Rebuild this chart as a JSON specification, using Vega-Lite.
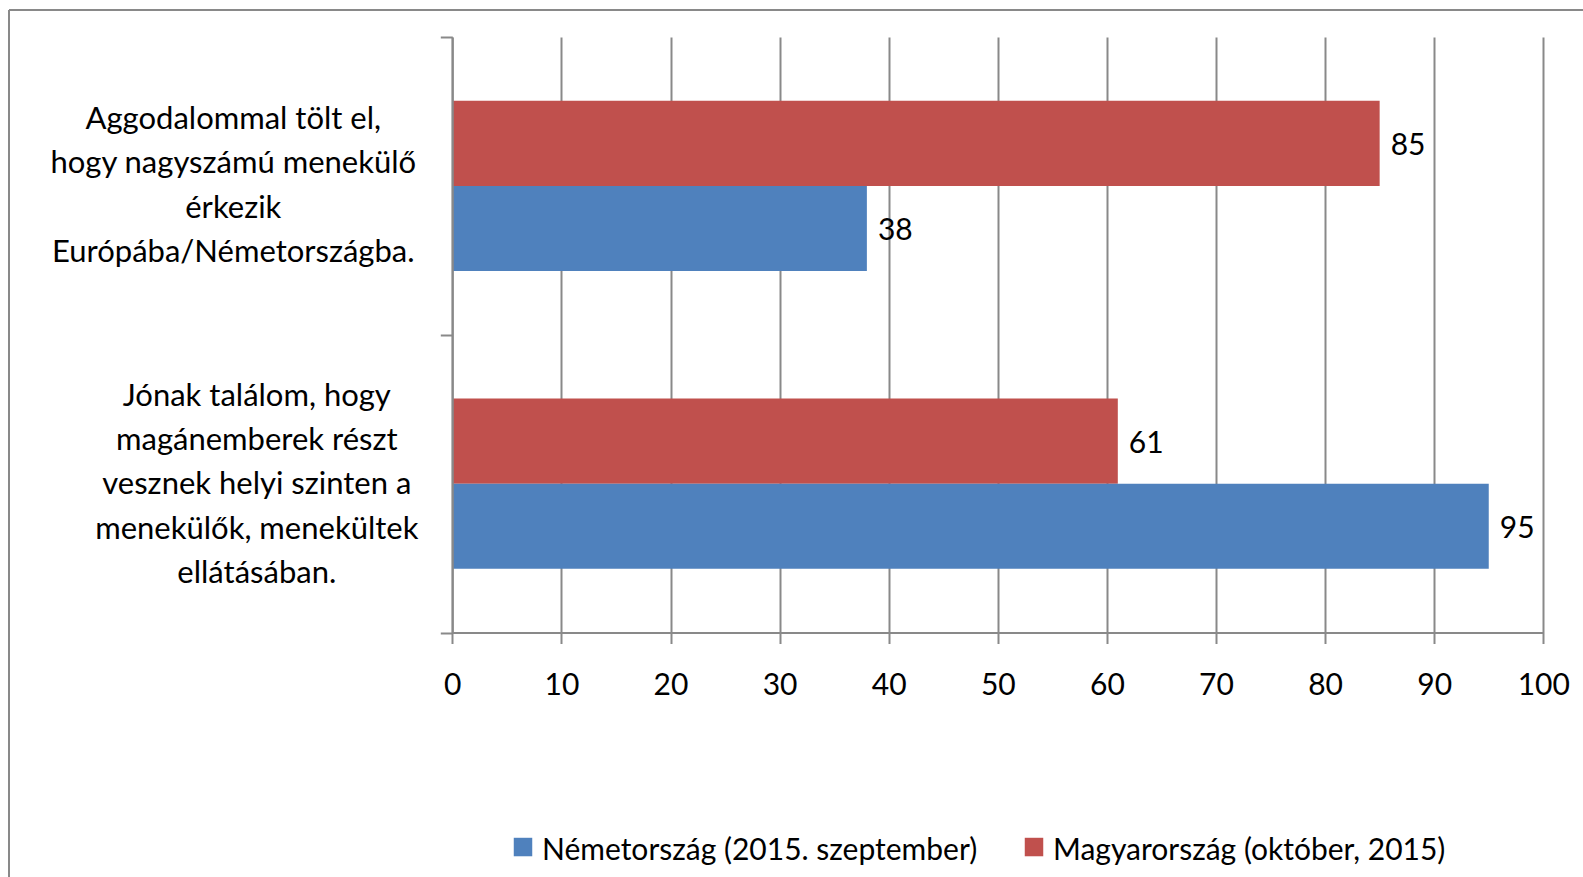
{
  "$schema": "https://vega.github.io/schema/vega-lite/v6.json",
  "width": 1574,
  "height": 867,
  "autosize": {"type": "none"},
  "padding": {"left": 9, "top": 10, "right": 0, "bottom": 0},
  "background": "#ffffff",
  "config": {
    "view": {"stroke": "#898989", "strokeWidth": 2, "strokeDash": [1574, 2441, 867, 0]},
    "font": "Lato"
  },
  "data": {
    "values": [
      {"question": "Aggodalommal tölt el,\nhogy nagyszámú menekülő\nérkezik\nEurópába/Németországba.", "country": "Magyarország (október, 2015)", "value": 85},
      {"question": "Aggodalommal tölt el,\nhogy nagyszámú menekülő\nérkezik\nEurópába/Németországba.", "country": "Németország (2015. szeptember)", "value": 38},
      {"question": "Jónak találom, hogy\nmagánemberek részt\nvesznek helyi szinten a\nmenekülők, menekültek\nellátásában.", "country": "Magyarország (október, 2015)", "value": 61},
      {"question": "Jónak találom, hogy\nmagánemberek részt\nvesznek helyi szinten a\nmenekülők, menekültek\nellátásában.", "country": "Németország (2015. szeptember)", "value": 95}
    ]
  },
  "encoding": {
    "y": {
      "field": "question",
      "type": "nominal",
      "sort": null,
      "scale": {"range": [27, 622.5], "paddingInner": 0, "paddingOuter": 0},
      "axis": {
        "title": null,
        "orient": "left",
        "offset": -443.3,
        "zindex": 1,
        "domainColor": "#898989",
        "domainWidth": 2,
        "tickColor": "#898989",
        "tickWidth": 2,
        "tickSize": 12,
        "tickBand": "extent",
        "labelFont": "Lato",
        "labelFontSize": 31,
        "labelColor": "#000000",
        "labelAlign": "center",
        "labelBaseline": "middle",
        "labelLineHeight": 44.4,
        "labelLimit": 0,
        "labelPadding": 195,
        "labelExpr": "split(datum.label + '', '\\n')",
        "encoding": {
          "labels": {
            "dx": {"condition": {"test": "indexof(datum.value + '', 'Aggodalommal') === 0", "value": -12.5}, "value": 11},
            "dy": {"condition": {"test": "indexof(datum.value + '', 'Aggodalommal') === 0", "value": -66.6}, "value": -87.5}
          }
        }
      }
    },
    "yOffset": {
      "field": "country",
      "type": "nominal",
      "sort": ["Magyarország (október, 2015)", "Németország (2015. szeptember)"],
      "scale": {"paddingInner": 0, "paddingOuter": 0.747}
    }
  },
  "layer": [
    {
      "mark": {"type": "bar"},
      "encoding": {
        "x": {
          "field": "value",
          "type": "quantitative",
          "scale": {"domain": [0, 100], "range": [443.3, 1534.3], "nice": false, "zero": true},
          "axis": {
            "title": null,
            "orient": "bottom",
            "offset": -244.5,
            "values": [0, 10, 20, 30, 40, 50, 60, 70, 80, 90, 100],
            "grid": false,
            "domainColor": "#898989",
            "domainWidth": 2,
            "tickColor": "#898989",
            "tickWidth": 2,
            "tickSize": 11,
            "labelFont": "Lato",
            "labelFontSize": 30,
            "labelColor": "#000000",
            "labelPadding": 26.5,
            "labelFlush": false,
            "labelOverlap": false
          }
        },
        "color": {
          "field": "country",
          "type": "nominal",
          "scale": {
            "domain": ["Németország (2015. szeptember)", "Magyarország (október, 2015)"],
            "range": ["#4F81BD", "#C0504D"]
          },
          "legend": {
            "title": null,
            "orient": "none",
            "legendX": 499,
            "legendY": 826,
            "direction": "horizontal",
            "padding": 0,
            "symbolType": "M-1,-1.43H1V0.57H-1Z",
            "symbolSize": 342,
            "symbolStrokeWidth": 0,
            "symbolOpacity": 1,
            "labelFont": "Lato",
            "labelFontSize": 30,
            "labelColor": "#000000",
            "labelOffset": 4,
            "labelLimit": 0,
            "columnPadding": 41
          }
        }
      }
    },
    {
      "mark": {"type": "text", "align": "left", "baseline": "middle", "dx": 11, "dy": 3, "font": "Lato", "fontSize": 30, "color": "#000000"},
      "encoding": {
        "x": {
          "field": "value",
          "type": "quantitative",
          "axis": {
            "title": null,
            "orient": "top",
            "grid": true,
            "gridColor": "#898989",
            "gridWidth": 2,
            "ticks": false,
            "labels": false,
            "domain": false,
            "values": [0, 10, 20, 30, 40, 50, 60, 70, 80, 90, 100]
          }
        },
        "text": {"field": "value", "type": "quantitative"}
      }
    }
  ],
  "resolve": {"axis": {"x": "independent"}}
}
